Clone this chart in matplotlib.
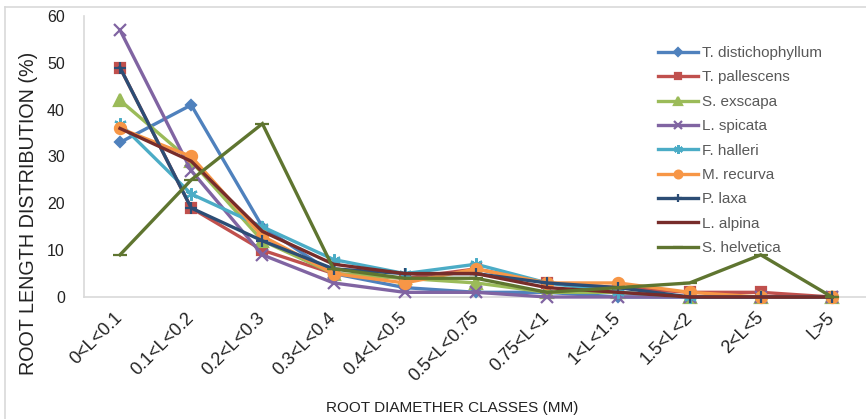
import matplotlib
matplotlib.use("Agg")
import matplotlib.pyplot as plt
from matplotlib.lines import Line2D

plt.rcParams['font.family'] = ['Liberation Sans', 'DejaVu Sans']

categories = ["0<L<0.1", "0.1<L<0.2", "0.2<L<0.3", "0.3<L<0.4", "0.4<L<0.5",
              "0.5<L<0.75", "0.75<L<1", "1<L<1.5", "1.5<L<2", "2<L<5", "L>5"]

t_distichophyllum = [33, 41, 15, 5, 2, 1, 1, 0, 0, 0, 0]
t_pallescens      = [49, 19, 10, 5, 4, 6, 3, 2, 1, 1, 0]
s_exscapa         = [42, 29, 12, 5, 4, 3, 1, 1, 0, 0, 0]
l_spicata         = [57, 27, 9, 3, 1, 1, 0, 0, 0, 0, 0]
f_halleri         = [37, 22, 15, 8, 5, 7, 3, 1, 0, 0, 0]
m_recurva         = [36, 30, 13, 5, 3, 6, 3, 3, 1, 0, 0]
p_laxa            = [49, 19, 12, 6, 5, 5, 3, 2, 0, 0, 0]
l_alpina          = [36, 29, 14, 7, 5, 5, 2, 1, 0, 0, 0]
s_helvetica       = [9, 25, 37, 6, 4, 4, 1, 2, 3, 9, 0]

series = [
    ("T. distichophyllum", t_distichophyllum, "#4F81BD", "D", 5.5),
    ("T. pallescens", t_pallescens, "#C0504D", "s", 7),
    ("S. exscapa", s_exscapa, "#9BBB59", "^", 8),
    ("L. spicata", l_spicata, "#8064A2", "x", 8),
    ("F. halleri", f_halleri, "#4BACC6", (6, 2, 0), 9),
    ("M. recurva", m_recurva, "#F79646", "o", 8),
    ("P. laxa", p_laxa, "#2C4D75", "+", 9),
    ("L. alpina", l_alpina, "#772C2A", "None", 0),
    ("S. helvetica", s_helvetica, "#5F7530", "_", 10),
]

fig = plt.figure(figsize=(8.66, 4.19), dpi=100)
W, H = 866, 419
left_px, right_px, top_px, bot_px = 84.4, 867.6, 16, 297
ax = fig.add_axes([left_px / W, 1 - bot_px / H, (right_px - left_px) / W, (bot_px - top_px) / H])

x = list(range(len(categories)))
for name, vals, col, mk, ms in series:
    ax.plot(x, vals, color=col, lw=2.4, marker=mk, markersize=ms,
            markeredgewidth=1.6, markeredgecolor=col, markerfacecolor=col,
            label=name, solid_joinstyle='miter', clip_on=False, zorder=3)

ax.set_xlim(-0.5, 10.5)
ax.set_ylim(0, 60)
ax.set_yticks(range(0, 61, 10))
ax.set_xticks(x)
ax.set_xticklabels(categories, rotation=45, ha='right', va='center',
                   rotation_mode='anchor', fontsize=13, color='#222222')
ax.tick_params(axis='y', length=0, pad=14, labelsize=11.5, labelcolor='#222222')
ax.tick_params(axis='x', length=0, pad=13)

for s in ['top', 'right']:
    ax.spines[s].set_visible(False)
for s in ['left', 'bottom']:
    ax.spines[s].set_color('#D9D9D9')
    ax.spines[s].set_linewidth(1.2)

fig.text(29 / W, 1 - 213 / H, "ROOT LENGTH DISTRIBUTION (%)", fontsize=14.2,
         rotation=90, color='#222222', ha='center', va='center')
fig.text(452 / W, 1 - 408 / H, "ROOT DIAMETHER CLASSES (MM)", fontsize=11,
         color='#222222', ha='center', va='center')

leg = ax.legend(loc='upper left', bbox_to_anchor=((652 - left_px) / (right_px - left_px), (bot_px - 40) / (bot_px - top_px)),
                frameon=False, fontsize=11, handlelength=2.6, labelspacing=0.68,
                handletextpad=0.3, borderaxespad=0, markerscale=0.7)
for t in leg.get_texts():
    t.set_color('#595959')

# chart border
fig.add_artist(Line2D([5 / W, 5 / W], [0, 1 - 7 / H], color='#D9D9D9', lw=1.2))
fig.add_artist(Line2D([5 / W, 1], [1 - 7 / H, 1 - 7 / H], color='#D9D9D9', lw=1.2))

fig.savefig("out.png", dpi=100)
